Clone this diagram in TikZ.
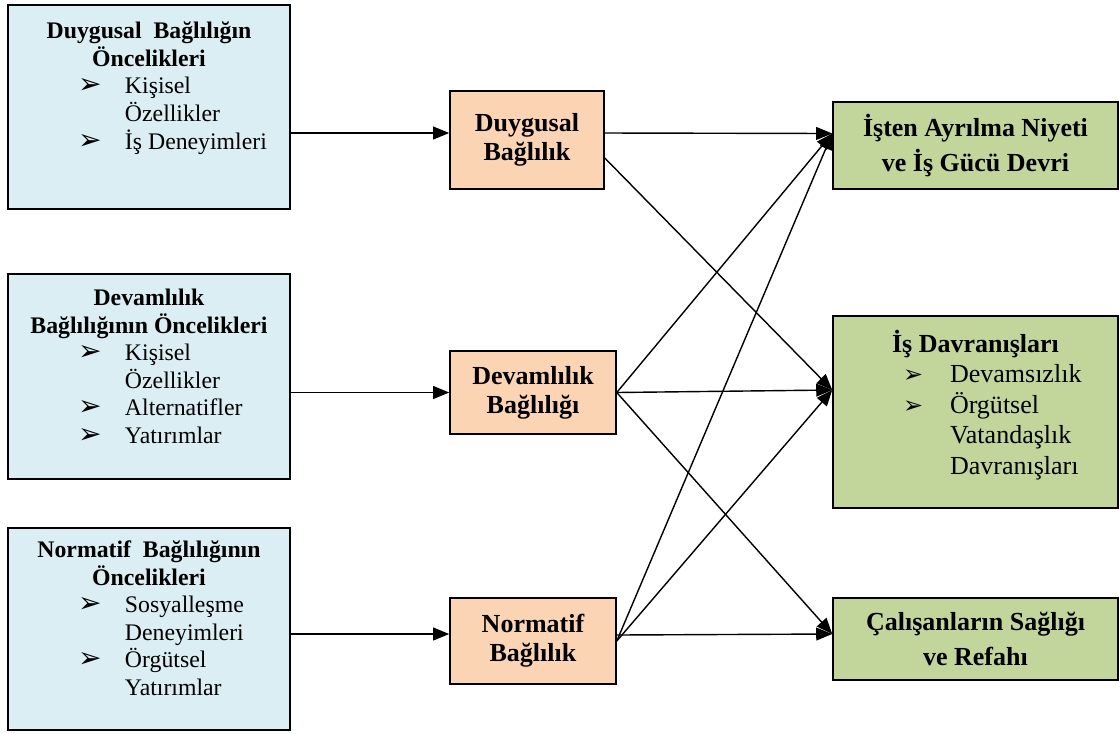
\documentclass[tikz,border=0pt]{standalone}
\usepackage{fontspec}
\setmainfont{Liberation Serif}
\newfontfamily\symfont{DejaVu Sans}
\usepackage{xcolor}
\usetikzlibrary{arrows.meta}

\definecolor{causeblue}{HTML}{DAEEF3}
\definecolor{bondpeach}{HTML}{FBD4B4}
\definecolor{resultgreen}{HTML}{C2D69B}
\newlength{\pxu}
\setlength{\pxu}{0.025cm}
\newcommand{\itm}[1][20]{\hspace*{70\pxu}{\symfont\fontsize{#1}{#1}\selectfont ➢}}

\begin{document}
\begin{tikzpicture}[
    x=0.025cm, y=-0.025cm,
    cause/.style={rectangle, draw, line width=1.1pt, fill=causeblue, minimum width=282\pxu, inner sep=0pt},
    causetext/.style={anchor=base, inner sep=0pt, font=\fontsize{16.9}{19.6}\selectfont},
    bond/.style={rectangle, draw, line width=1.1pt, fill=bondpeach, align=center, inner sep=0pt, font=\fontsize{18.5}{20.6}\selectfont\bfseries},
    outcome/.style={rectangle, draw, line width=1.1pt, fill=resultgreen, minimum width=285\pxu, inner sep=0pt, align=center, font=\fontsize{18.5}{24.8}\selectfont\bfseries},
    outtext/.style={anchor=base, inner sep=0pt, font=\fontsize{18.5}{21.7}\selectfont},
    arr/.style={-{Triangle[length=0.4cm, width=0.32cm]}, line width=1pt}
]
\useasboundingbox (0,0) rectangle (1119,733);

% antecedents
\node[cause, minimum height=204\pxu] (ldb) at (149,107) {};
\node[cause, minimum height=205\pxu] (lcb) at (149,376.5) {};
\node[cause, minimum height=202\pxu] (lnb) at (149,629) {};

\node[causetext] (ldt) at (149,38) {\begin{tabular}[t]{@{}p{117\pxu}@{}p{165\pxu}@{}}
\multicolumn{2}{@{}c@{}}{\bfseries Duygusal\ \ Bağlılığın}\\
\multicolumn{2}{@{}c@{}}{\bfseries Öncelikleri}\\
\itm & Kişisel\\
 & Özellikler\\
\itm & İş Deneyimleri
\end{tabular}};
\node[causetext] (lct) at (149,305) {\begin{tabular}[t]{@{}p{117\pxu}@{}p{165\pxu}@{}}
\multicolumn{2}{@{}c@{}}{\bfseries Devamlılık}\\
\multicolumn{2}{@{}c@{}}{\bfseries Bağlılığının Öncelikleri}\\
\itm & Kişisel\\
 & Özellikler\\
\itm & Alternatifler\\
\itm & Yatırımlar
\end{tabular}};
\node[causetext] (lnt) at (149,557) {\begin{tabular}[t]{@{}p{117\pxu}@{}p{165\pxu}@{}}
\multicolumn{2}{@{}c@{}}{\bfseries Normatif\ \ Bağlılığının}\\
\multicolumn{2}{@{}c@{}}{\bfseries Öncelikleri}\\
\itm & Sosyalleşme\\
 & Deneyimleri\\
\itm & Örgütsel\\
 & Yatırımlar
\end{tabular}};

% commitment types
\node[bond, minimum width=154\pxu, minimum height=98\pxu] (dbag) at (527,140) {Duygusal\\Bağlılık};
\node[bond, minimum width=166\pxu, minimum height=83\pxu] (cbag) at (533,392.5) {Devamlılık\\Bağlılığı};
\node[bond, minimum width=166\pxu, minimum height=86\pxu] (nbag) at (533,641) {Normatif\\Bağlılık};

% outcomes
\node[outcome, minimum height=87\pxu] (ayr) at (975.5,145.5) {İşten Ayrılma Niyeti\\ve İş Gücü Devri};
\node[outcome, minimum height=192\pxu] (dav) at (975.5,412) {};
\node[outcome, minimum height=82\pxu] (cal) at (975.5,639) {Çalışanların Sağlığı\\ve Refahı};

\node[outtext] (davt) at (975.5,352) {\begin{tabular}[t]{@{}p{117\pxu}@{}p{168\pxu}@{}}
\multicolumn{2}{@{}c@{}}{\bfseries İş Davranışları}\\
\itm[17] & Devamsızlık\\
\itm[17] & Örgütsel\\
 & Vatandaşlık\\
 & Davranışları
\end{tabular}};

\coordinate (din) at ([yshift=7\pxu]dbag.west);
\coordinate (dout) at ([yshift=7\pxu]dbag.east);
\coordinate (nin) at ([yshift=7\pxu]nbag.west);
\coordinate (nout) at ([yshift=6\pxu]nbag.east);
\coordinate (ain) at ([yshift=12\pxu]ayr.west);
\coordinate (vin) at ([yshift=22\pxu]dav.west);
\coordinate (cin) at ([yshift=5\pxu]cal.west);

\draw[arr] (ldb.east |- din) -- (din);
\draw[arr] (lcb.east |- cbag.west) -- (cbag.west);
\draw[arr] (lnb.east |- nin) -- (nin);

\draw[arr] (dout) -- (ain);
\draw[arr] ([yshift=-18\pxu]dbag.east) -- (vin);
\draw[arr] (cbag.east) -- (ain);
\draw[arr] (cbag.east) -- (vin);
\draw[arr] (cbag.east) -- (cin);
\draw[arr] (nbag.east) -- (ain);
\draw[arr] (nbag.east) -- (vin);
\draw[arr] (nout) -- (cin);

\end{tikzpicture}
\end{document}
